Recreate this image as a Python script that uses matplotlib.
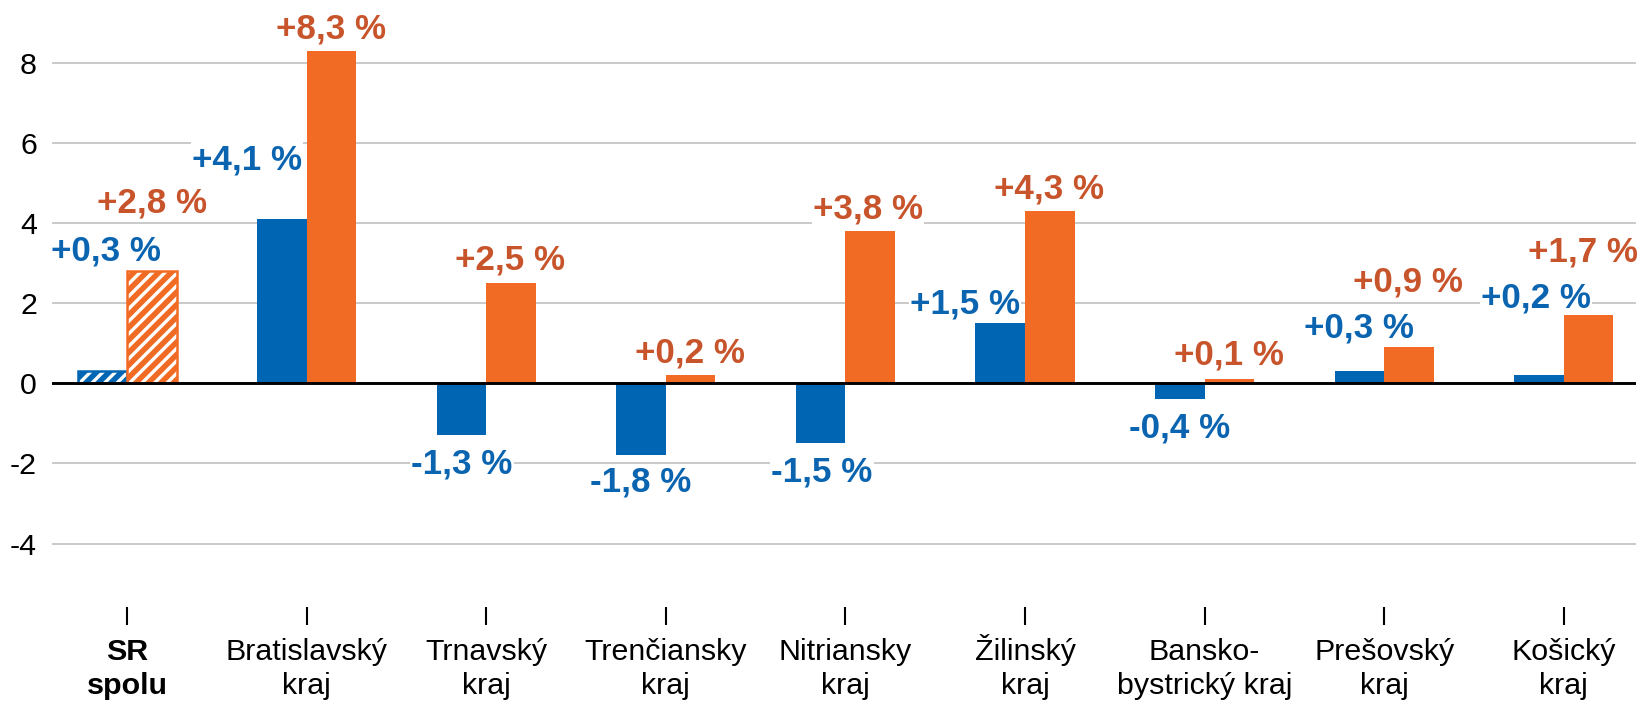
import matplotlib
matplotlib.use("Agg")
import matplotlib.pyplot as plt
import numpy as np

plt.rcParams['font.family'] = ['Liberation Sans', 'DejaVu Sans']
plt.rcParams['hatch.linewidth'] = 1.6

# ---- data ----
categories = ["SR\nspolu", "Bratislavský\nkraj", "Trnavský\nkraj", "Trenčiansky\nkraj",
              "Nitriansky\nkraj", "Žilinský\nkraj", "Bansko-\nbystrický kraj",
              "Prešovský\nkraj", "Košický\nkraj"]
series_blue = [0.3, 4.1, -1.3, -1.8, -1.5, 1.5, -0.4, 0.3, 0.2]
series_orange = [2.8, 8.3, 2.5, 0.2, 3.8, 4.3, 0.1, 0.9, 1.7]
labels_blue = ["+0,3 %", "+4,1 %", "-1,3 %", "-1,8 %", "-1,5 %", "+1,5 %", "-0,4 %", "+0,3 %", "+0,2 %"]
labels_orange = ["+2,8 %", "+8,3 %", "+2,5 %", "+0,2 %", "+3,8 %", "+4,3 %", "+0,1 %", "+0,9 %", "+1,7 %"]
yticks = [-4, -2, 0, 2, 4, 6, 8]

# label placement (layout, x offset from category centre, baseline y)
pos_blue = [(-0.117, 3.07), (-0.332, 5.34), (-0.135, -2.24), (-0.138, -2.69), (-0.130, -2.44),
            (-0.334, 1.75), (-0.137, -1.36), (-0.140, 1.15), (-0.155, 1.90)]
pos_orange = [(0.139, 4.25), (0.136, 8.59), (0.133, 2.85), (0.135, 0.53), (0.126, 4.10),
              (0.134, 4.62), (0.136, 0.46), (0.133, 2.30), (0.107, 3.05)]

BAR_BLUE = "#0065B3"
BAR_ORANGE = "#F26B24"
TXT_BLUE = "#0A64B0"
TXT_ORANGE = "#C8542B"

fig = plt.figure(figsize=(1640 / 150, 706 / 150), dpi=150)
ax = fig.add_axes([52 / 1640, (706 - 607) / 706, (1636 - 52) / 1640, 607 / 706])

x = np.arange(len(categories))
w = 0.276

for i in range(len(categories)):
    if i == 0:
        ax.bar(x[i] - w / 2, series_blue[i], w, color=BAR_BLUE, edgecolor="white",
               hatch="////", linewidth=0, zorder=2)
        ax.bar(x[i] - w / 2, series_blue[i], w, fill=False, edgecolor=BAR_BLUE,
               linewidth=1.2, zorder=2)
        ax.bar(x[i] + w / 2, series_orange[i], w, color=BAR_ORANGE, edgecolor="white",
               hatch="////", linewidth=0, zorder=2)
        ax.bar(x[i] + w / 2, series_orange[i], w, fill=False, edgecolor=BAR_ORANGE,
               linewidth=1.2, zorder=2)
    else:
        ax.bar(x[i] - w / 2, series_blue[i], w, color=BAR_BLUE, linewidth=0, zorder=2)
        ax.bar(x[i] + w / 2, series_orange[i], w, color=BAR_ORANGE, linewidth=0, zorder=2)

bbox = dict(facecolor="white", edgecolor="none", pad=0.5)
for i in range(len(categories)):
    dx, yy = pos_blue[i]
    ax.text(x[i] + dx, yy, labels_blue[i], color=TXT_BLUE, fontsize=16.8, fontweight="bold",
            ha="center", va="baseline", zorder=4, bbox=bbox)
    dx, yy = pos_orange[i]
    ax.text(x[i] + dx, yy, labels_orange[i], color=TXT_ORANGE, fontsize=16.8, fontweight="bold",
            ha="center", va="baseline", zorder=4, bbox=bbox)

ax.axhline(0, color="black", linewidth=1.4, zorder=3)

ax.set_xlim(-0.418, 8.402)
ax.set_ylim(-5.58, 9.56)
ax.set_yticks(yticks)
ax.set_yticklabels([str(v) for v in yticks])
ax.grid(axis="y", color="#C0C0C0", linewidth=0.8, zorder=0)
ax.set_axisbelow(True)

ax.set_xticks(x)
ax.set_xticklabels(categories, linespacing=1.25, va="baseline")
ax.get_xticklabels()[0].set_fontweight("bold")
for s in ax.spines.values():
    s.set_visible(False)
ax.tick_params(axis="x", length=8.6, width=1.0, color="black", direction="out",
               pad=33.0, labelsize=14.6)
ax.tick_params(axis="y", length=0, pad=7.2, labelsize=14.6)

fig.savefig("out.png", dpi=150, facecolor="white")
